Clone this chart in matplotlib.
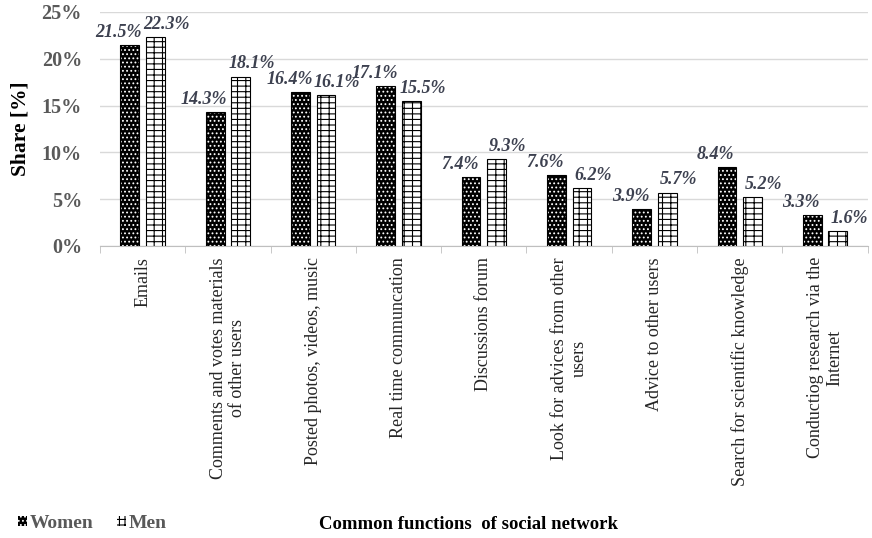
import matplotlib
matplotlib.use("Agg")
import matplotlib.pyplot as plt
from matplotlib.patches import Patch
import numpy as np

plt.rcParams["font.family"] = ["Liberation Serif", "DejaVu Serif"]
plt.rcParams["hatch.linewidth"] = 0.8

categories = ["Emails", "Comments and votes materials\nof other users",
              "Posted photos, videos, music", "Real time communcation",
              "Discussions forum", "Look for advices from other\nusers",
              "Advice to other users", "Search for scientific knowledge",
              "Conductiog research via the\nInternet"]
women = [21.5, 14.3, 16.4, 17.1, 7.4, 7.6, 3.9, 8.4, 3.3]
men = [22.3, 18.1, 16.1, 15.5, 9.3, 6.2, 5.7, 5.2, 1.6]

fig = plt.figure(figsize=(8.72, 5.38), dpi=100)
ax = fig.add_axes([0.1147, 0.5428, 0.8803, 0.4349])

x = np.arange(len(categories))
w = 0.22
off = 0.15
label_col = "#3d4150"

# women: black bar with white dots
ax.bar(x - off, women, w, color="black", edgecolor="white", hatch="....", linewidth=0, zorder=3)
ax.bar(x - off, women, w, fill=False, edgecolor="black", linewidth=0.8, zorder=4)
# men: white bar with brick-like black pattern
ax.bar(x + off, men, w, color="white", edgecolor="black", hatch="---||", linewidth=0.8, zorder=3)

for i in range(len(categories)):
    ax.annotate(f"{women[i]:.1f}%", (x[i] - off - 0.13, women[i]), xytext=(0, 3),
                textcoords="offset points", ha="center", va="bottom",
                fontsize=13, fontweight="bold", fontstyle="italic", color=label_col, zorder=5)
    ax.annotate(f"{men[i]:.1f}%", (x[i] + off + 0.13, men[i]), xytext=(0, 3),
                textcoords="offset points", ha="center", va="bottom",
                fontsize=13, fontweight="bold", fontstyle="italic", color=label_col, zorder=5)

ax.set_xlim(-0.5, len(categories) - 0.5)
ax.set_ylim(0, 25)
ax.set_yticks(np.arange(0, 26, 5))
ax.set_yticklabels([f"{v}%" for v in range(0, 26, 5)], fontsize=14.5, fontweight="bold", color="#595959")
ax.yaxis.grid(True, color="#d9d9d9", linewidth=1, zorder=0)
ax.set_axisbelow(True)
ax.tick_params(axis="y", length=0, pad=13)

ax.set_xticks(x)
ax.set_xticklabels(categories, rotation=90, fontsize=13, va="top", ha="center",
                   multialignment="center", color="#262626")
ax.tick_params(axis="x", length=0, pad=8)
ax.set_xticks(np.arange(-0.5, len(categories), 1), minor=True)
ax.tick_params(axis="x", which="minor", length=5, color="#bfbfbf")

for s in ["top", "right", "left"]:
    ax.spines[s].set_visible(False)
ax.spines["bottom"].set_color("#bfbfbf")

ax.set_ylabel("Share [%]", fontsize=15.5, fontweight="bold", labelpad=8)
fig.text(0.537, 0.025, "Common functions  of social network", ha="center", va="center",
         fontsize=13.5, fontweight="bold")

# legend
h1 = Patch(facecolor="black", edgecolor="white", hatch="....", linewidth=0)
h2 = Patch(facecolor="white", edgecolor="black", hatch="+++", linewidth=0)
fig.legend([h1, h2], ["Women", "Men"], loc="center left", bbox_to_anchor=(0.01, 0.027),
           ncol=2, frameon=False, handlelength=0.45, handleheight=0.45, columnspacing=1.2,
           handletextpad=0.15, borderpad=0, prop={"size": 14, "weight": "bold"}, labelcolor="#595959")

fig.savefig("out.png", dpi=100)
